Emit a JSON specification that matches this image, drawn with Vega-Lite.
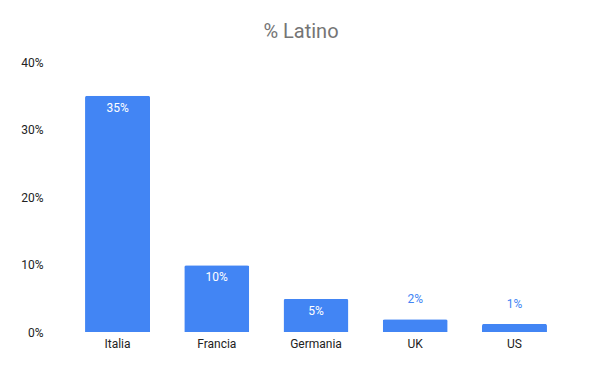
{
  "$schema": "https://vega.github.io/schema/vega-lite/v6.json",
  "width": 532,
  "height": 270,
  "autosize": "none",
  "padding": {"left": 50, "top": 62, "right": 18, "bottom": 39},
  "background": "white",
  "title": {"text": "% Latino", "font": "Roboto", "fontSize": 20, "fontWeight": "normal", "color": "#757575", "anchor": "middle", "dx": -15, "offset": 14},
  "config": {"view": {"stroke": null}, "font": "Roboto"},
  "data": {"values": [
    {"country": "Italia", "value": 0.35},
    {"country": "Francia", "value": 0.099},
    {"country": "Germania", "value": 0.049},
    {"country": "UK", "value": 0.019},
    {"country": "US", "value": 0.012}
  ]},
  "encoding": {
    "x": {"field": "country", "type": "nominal", "sort": null,
      "scale": {"paddingInner": 0.345, "paddingOuter": 0.353},
      "axis": {"title": null, "labelAngle": 0, "domain": false, "ticks": false, "labelFont": "Roboto", "labelFontSize": 12, "labelColor": "#222222", "labelPadding": 6}},
    "y": {"field": "value", "type": "quantitative",
      "scale": {"domain": [0, 0.4]},
      "axis": {"title": null, "format": ".0%", "values": [0, 0.1, 0.2, 0.3, 0.4], "grid": false, "domain": false, "ticks": false, "labelFont": "Roboto", "labelFontSize": 12, "labelColor": "#222222", "labelPadding": 7}}
  },
  "layer": [
    {"mark": {"type": "bar", "color": "#4285F4", "cornerRadiusTopLeft": 2, "cornerRadiusTopRight": 2}},
    {"transform": [{"filter": "datum.value >= 0.04"}],
     "mark": {"type": "text", "color": "#ffffff", "baseline": "top", "dy": 7, "fontSize": 12, "font": "Roboto"},
     "encoding": {"text": {"field": "value", "type": "quantitative", "format": ".0%"}}},
    {"transform": [{"filter": "datum.value < 0.04"}],
     "mark": {"type": "text", "color": "#4285F4", "baseline": "bottom", "dy": -13, "fontSize": 12, "font": "Roboto"},
     "encoding": {"text": {"field": "value", "type": "quantitative", "format": ".0%"}}}
  ]
}
